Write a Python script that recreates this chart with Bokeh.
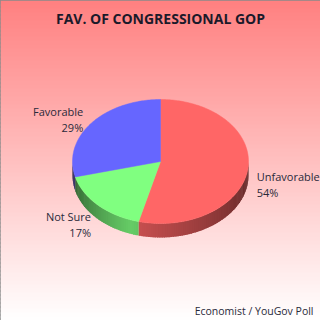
import math
from bokeh.plotting import figure
from bokeh.models import Range1d
from bokeh.core.properties import value
from bokeh.embed import file_html
from bokeh.resources import INLINE

# ---- data ----
categories = ["Unfavorable", "Not Sure", "Favorable"]
values = [54, 17, 29]
pct_labels = ["54%", "17%", "29%"]
slice_colors = [(255, 102, 102), (128, 255, 128), (102, 102, 255)]
title_text = "FAV. OF CONGRESSIONAL GOP"
source_text = "Economist / YouGov Poll"

W, H = 320, 320
p = figure(width=W, height=H, output_backend="svg", toolbar_location=None,
           x_range=Range1d(0, W), y_range=Range1d(H, 0), min_border=0)
p.axis.visible = False
p.grid.visible = False
p.background_fill_color = "white"
p.border_fill_color = "white"
p.outline_line_color = "#8a8a8a"
p.outline_line_width = 3

# background gradient (style only)
n = 80
top, bot, lef, rig, cols = [], [], [], [], []
for i in range(n):
    y0 = H * i / n
    y1 = H * (i + 1) / n
    t = (y0 + y1) / 2 / H
    g = int(round(128 + (255 - 128) * t))
    top.append(y0); bot.append(y1 + 1); lef.append(0); rig.append(W)
    cols.append("#%02x%02x%02x" % (255, g, g))
p.quad(top=top, bottom=bot, left=lef, right=rig, fill_color=cols, line_color=None)

# pie geometry (styles)
cx, cy, rx, ry, depth = 160, 161, 88, 62, 14

def pt(theta_deg):
    a = math.radians(theta_deg)
    return cx + rx * math.sin(a), cy - ry * math.cos(a)

total = float(sum(values))
starts, ends = [], []
acc = 0.0
for v in values:
    starts.append(acc / total * 360)
    acc += v
    ends.append(acc / total * 360)

def shade(theta):
    # lighting on side wall: brightest toward lower-left
    if theta <= 200:
        return 0.35 + (0.8 - 0.35) * (theta - 90) / 110.0
    return 0.8 - (0.8 - 0.3) * (theta - 200) / 70.0

# side wall strips (overlapping slightly to avoid seams)
sx, sy, sc = [], [], []
step = 1.5
for s, e, col in zip(starts, ends, slice_colors):
    a0 = max(s, 90.0)
    a1 = min(e, 270.0)
    th = a0
    while th < a1 - 1e-9:
        th2 = min(th + step, a1)
        x0, y0 = pt(th)
        x1, y1 = pt(min(th2 + 0.8, a1))
        sx.append([x0, x1, x1, x0])
        sy.append([y0, y1, y1 + depth, y0 + depth])
        f = shade((th + th2) / 2)
        sc.append("#%02x%02x%02x" % tuple(int(c * f) for c in col))
        th = th2
p.patches(sx, sy, fill_color=sc, line_color=None)

# top faces
px, py, pc = [], [], []
for s, e, col in zip(starts, ends, slice_colors):
    xs, ys = [cx], [cy]
    k = max(2, int((e - s) / 1.0))
    for j in range(k + 1):
        x, y = pt(s + (e - s) * j / k)
        xs.append(x); ys.append(y)
    px.append(xs); py.append(ys)
    pc.append("#%02x%02x%02x" % col)
p.patches(px, py, fill_color=pc, line_color=pc, line_width=0.5)

# labels
font = value("Open Sans")
for cat, pl, s, e in zip(categories, pct_labels, starts, ends):
    mid = math.radians((s + e) / 2)
    sn, cs = math.sin(mid), math.cos(mid)
    ax = cx + (rx + 6) * sn
    ay = cy - (ry + 7) * cs + (depth if cs < 0 else 0)
    if sn >= 0:
        align = "left"; tx = ax + 3
    else:
        align = "right"; tx = ax - 3
    p.text(x=[tx], y=[ay - 8], text=[cat], text_align=align, text_baseline="middle",
           text_font=font, text_font_size="11px", text_color="#2a2a3a")
    p.text(x=[tx], y=[ay + 8], text=[pl], text_align=align, text_baseline="middle",
           text_font=font, text_font_size="11px", text_color="#2a2a3a")

p.text(x=[W / 2], y=[18], text=[title_text], text_align="center", text_baseline="middle",
       text_font=font, text_font_size="14px", text_font_style="bold", text_color="#1a1a2a")
p.text(x=[W - 7], y=[310], text=[source_text], text_align="right", text_baseline="middle",
       text_font=font, text_font_size="10.5px", text_color="#2a2a3a")

open("out.html", "w").write(file_html(p, INLINE))
